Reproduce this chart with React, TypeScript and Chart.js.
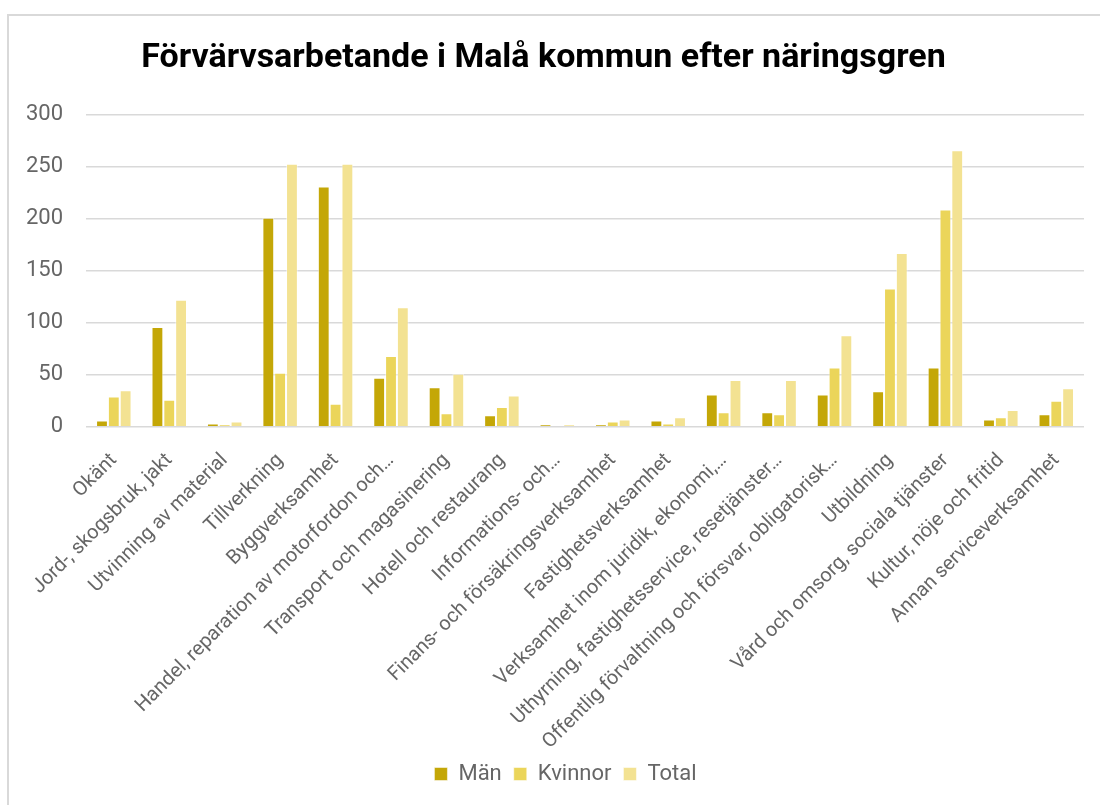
import React, { useEffect, useRef } from "react";
import { Chart, registerables } from "chart.js";

Chart.register(...registerables);

const categories: string[] = [
  "Okänt",
  "Jord-, skogsbruk, jakt",
  "Utvinning av material",
  "Tillverkning",
  "Byggverksamhet",
  "Handel, reparation av motorfordon och…",
  "Transport och magasinering",
  "Hotell och restaurang",
  "Informations- och…",
  "Finans- och försäkringsverksamhet",
  "Fastighetsverksamhet",
  "Verksamhet inom juridik, ekonomi,…",
  "Uthyrning, fastighetsservice, resetjänster…",
  "Offentlig förvaltning och försvar, obligatorisk…",
  "Utbildning",
  "Vård och omsorg, sociala tjänster",
  "Kultur, nöje och fritid",
  "Annan serviceverksamhet",
];

const man: number[] = [6, 96, 3, 201, 231, 47, 38, 11, 2, 2, 6, 31, 14, 31, 34, 57, 7, 12];
const kvinnor: number[] = [29, 26, 2, 52, 22, 68, 13, 19, 0, 5, 3, 14, 12, 57, 133, 209, 9, 25];
const total: number[] = [35, 122, 5, 253, 253, 115, 51, 30, 2, 7, 9, 45, 45, 88, 167, 266, 16, 37];

const seriesNames: string[] = ["Män", "Kvinnor", "Total"];
const seriesColors: string[] = ["#C4A707", "#EBD55A", "#F3E292"];

const yMin = 0;
const yMax = 300;
const yStep = 50;

const titleText = "Förvärvsarbetande i Malå kommun efter näringsgren";
const labelFont = "Roboto, 'DejaVu Sans', sans-serif";
const titleFont = "Roboto, 'DejaVu Sans', sans-serif";

const legendShift = {
  id: "legendShift",
  afterLayout(chart: any) {
    const l = chart.legend;
    if (l) {
      l.left += 22;
      l.right += 22;
    }
  },
};

export default function App() {
  const canvasRef = useRef<HTMLCanvasElement | null>(null);

  useEffect(() => {
    if (!canvasRef.current) return;
    const values = [man, kvinnor, total];
    const chart = new Chart(canvasRef.current, {
      type: "bar",
      data: {
        labels: categories,
        datasets: seriesNames.map((name, i) => ({
          label: name,
          data: values[i],
          backgroundColor: seriesColors[i],
          borderColor: "rgba(255,255,255,0.5)",
          borderWidth: 1,
          barPercentage: 1,
          categoryPercentage: 0.64,
        })),
      },
      plugins: [legendShift],
      options: {
        animation: false,
        responsive: false,
        maintainAspectRatio: false,
        layout: { padding: { left: 3, right: 16, top: 0, bottom: 10 } },
        plugins: {
          title: {
            display: true,
            text: titleText,
            color: "#000000",
            font: { family: titleFont, size: 34, weight: "bold" },
            padding: { top: 38, bottom: 36 },
          },
          legend: {
            position: "bottom",
            labels: {
              boxWidth: 13,
              boxHeight: 13,
              padding: 12,
              color: "#666666",
              font: { family: labelFont, size: 22 },
            },
          },
          tooltip: { enabled: false },
        },
        scales: {
          x: {
            grid: { display: false },
            border: { display: false },
            ticks: {
              color: "#666666",
              font: { family: labelFont, size: 20 },
              minRotation: 45,
              maxRotation: 45,
              autoSkip: false,
              padding: 14,
            },
            afterFit: (scale: any) => {
              scale.height -= 17;
            },
          },
          y: {
            min: yMin,
            max: yMax,
            grid: { color: "#d9d9d9", lineWidth: 1.5, drawTicks: false },
            border: { display: false },
            ticks: {
              stepSize: yStep,
              color: "#666666",
              font: { family: labelFont, size: 22 },
              padding: 23,
            },
          },
        },
      },
    });
    return () => chart.destroy();
  }, []);

  return (
    <div style={{ position: "fixed", left: 0, top: 0, width: 1100, height: 805, overflow: "hidden", background: "#fff" }}>
      <div
        style={{
          position: "absolute",
          left: 7,
          top: 14,
          width: 1200,
          height: 1000,
          border: "2px solid #d9d9d9",
          boxSizing: "border-box",
        }}
      />
      <canvas ref={canvasRef} width={1100} height={805} style={{ position: "absolute", left: 0, top: 0, width: 1100, height: 805 }} />
    </div>
  );
}
